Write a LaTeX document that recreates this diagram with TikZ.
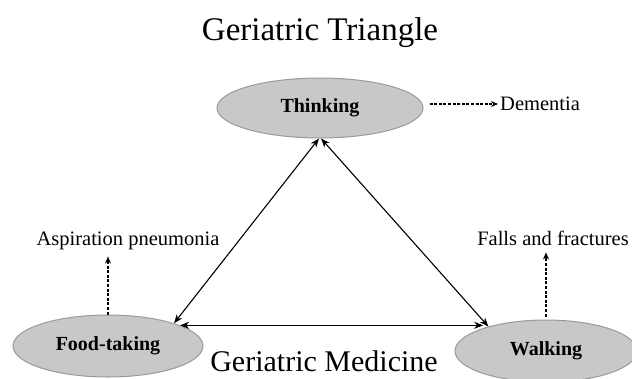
\documentclass[tikz,border=0pt]{standalone}
\usepackage{fontspec}
\setmainfont{Liberation Serif}
\usetikzlibrary{arrows.meta,shapes.geometric,calc}
\definecolor{ellfill}{HTML}{C8C8C8}
\definecolor{elldraw}{HTML}{9A9A9A}
\tikzset{
  oval/.style={ellipse, fill=ellfill, draw=elldraw, line width=1pt, inner sep=0pt,
    font=\fontsize{20}{24}\selectfont\bfseries},
  lbl/.style={anchor=base, inner sep=0pt, font=\fontsize{20.5}{24}\selectfont},
  solidarrow/.style={{Stealth[length=9pt,width=7pt]}-{Stealth[length=9pt,width=7pt]}, line width=1.1pt},
  dasharrow/.style={-{Stealth[length=7pt,width=6pt]}, line width=1.5pt, dash pattern=on 3pt off 1.6pt}
}
\begin{document}
\begin{tikzpicture}[x=1pt,y=-1pt]
\useasboundingbox (0,0) rectangle (632,378);
\node[anchor=base, inner sep=0pt, font=\fontsize{33}{40}\selectfont] (title) at (320,40) {Geriatric Triangle};
\node[oval, minimum width=206pt, minimum height=60pt] (think) at (320,108) {Thinking};
\node[oval, minimum width=190pt, minimum height=62pt] (food) at (108,346) {Food-taking};
\node[oval, minimum width=182pt, minimum height=62pt] (walk) at (546,351) {Walking};
\node[lbl] (med) at (324,371) {\fontsize{30}{36}\selectfont Geriatric Medicine};
\node[lbl] (asp) at (128,245) {Aspiration pneumonia};
\node[lbl] (falls) at (553,245) {Falls and fractures};
\node[lbl, anchor=west, inner sep=2pt] (dem) at (498,104) {Dementia};
\draw[solidarrow] (food.19) -- (think.268);
\draw[solidarrow] (think.272) -- (walk.157);
\draw[solidarrow] (food.16) -- (food.16 -| walk.160);
\draw[dasharrow] ([xshift=6pt]think.east |- dem.west) -- (dem.west);
\draw[dasharrow, shorten >=7pt] (food.north) -- (food.north |- asp.south);
\draw[dasharrow, shorten >=7pt] ([yshift=3pt]walk.north) -- (walk.north |- falls.south);
\end{tikzpicture}
\end{document}
